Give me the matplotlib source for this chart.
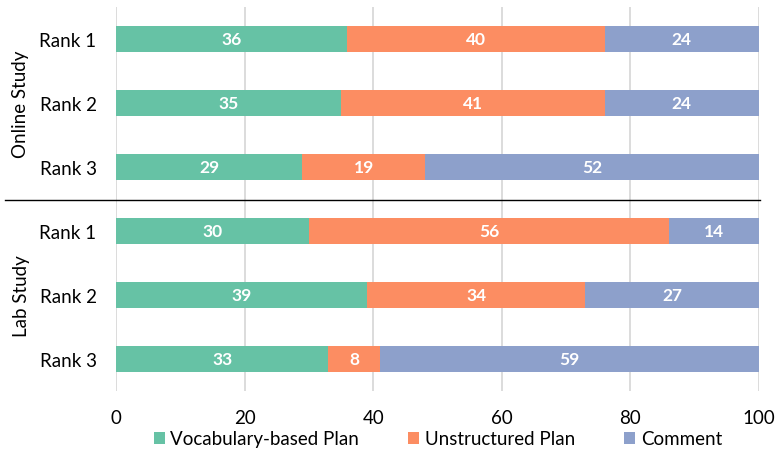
import matplotlib.pyplot as plt
import numpy as np
from matplotlib.lines import Line2D

plt.rcParams['font.family'] = ['Lato', 'DejaVu Sans']

# rows from top to bottom: online study ranks, then lab study ranks
row_labels = ['Rank 1', 'Rank 2', 'Rank 3', 'Rank 1', 'Rank 2', 'Rank 3']
vocab = [36, 35, 29, 30, 39, 33]
unstructured = [40, 41, 19, 56, 34, 8]
comment = [24, 24, 52, 14, 27, 59]
series = ['Vocabulary-based Plan', 'Unstructured Plan', 'Comment']
colors = ['#66c2a5', '#fc8d62', '#8da0cb']
groups = ['Online Study', 'Lab Study']

fig = plt.figure(figsize=(7.75, 4.6), dpi=100)
ax = fig.add_axes([116 / 775, 68 / 460, 643 / 775, 384 / 460])

y = np.arange(len(row_labels))
left = np.zeros(len(row_labels))
for vals, name, c in zip([vocab, unstructured, comment], series, colors):
    vals = np.array(vals)
    ax.barh(y, vals, left=left, height=0.4, color=c, label=name, zorder=3)
    for yi, l, v in zip(y, left, vals):
        ax.text(l + v / 2, yi, str(v), ha='center', va='center',
                color='white', fontsize=12.5, fontweight='bold', zorder=4)
    left += vals

ax.set_ylim(len(row_labels) - 0.5, -0.5)
ax.set_xlim(0, 100)
ax.set_xticks(range(0, 101, 20))
ax.set_yticks(y)
ax.set_yticklabels(row_labels)
ax.tick_params(length=0, labelsize=13.5)
ax.tick_params(axis='x', pad=13)
ax.tick_params(axis='y', pad=14)
ax.grid(axis='x', color='#d9d9d9', linewidth=1.3, zorder=0)
for s in ax.spines.values():
    s.set_visible(False)

# divider between the two studies
fig.add_artist(Line2D([5 / 775, 760 / 775], [1 - 201 / 460, 1 - 201 / 460],
                      color='black', linewidth=1))

fig.text(21 / 775, 1 - 104 / 460, groups[0], rotation=90, ha='center', va='center', fontsize=13.5)
fig.text(21 / 775, 1 - 296 / 460, groups[1], rotation=90, ha='center', va='center', fontsize=13.5)

fig.legend(loc='center', bbox_to_anchor=(0.565, 1 - 440 / 460), ncol=3, frameon=False,
           fontsize=13.5, handlelength=0.6, handleheight=0.6, handletextpad=0.3,
           columnspacing=2.6)

fig.savefig('out.png', dpi=100)
